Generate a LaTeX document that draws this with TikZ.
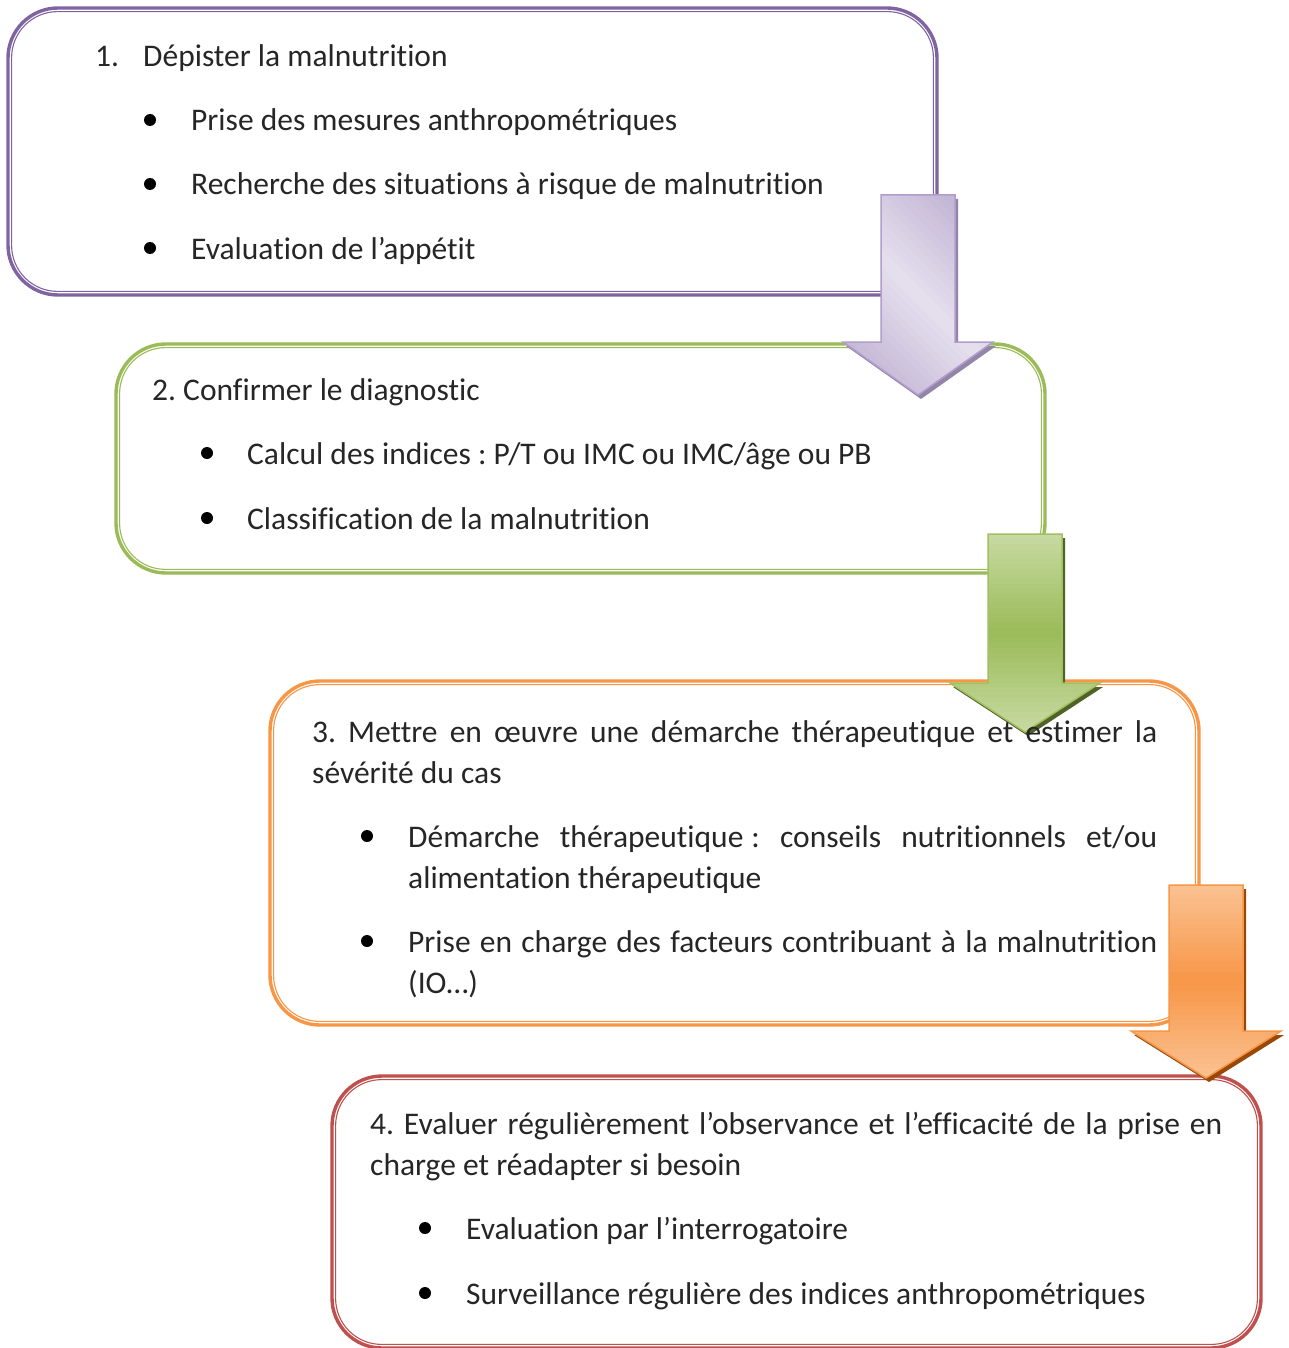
\documentclass[tikz,border=0pt]{standalone}
\usepackage{fontspec}
\setmainfont{Carlito}[Ligatures={NoCommon}]
\definecolor{cpurple}{HTML}{8064A2}
\definecolor{cgreen}{HTML}{9BBB59}
\definecolor{corange}{HTML}{F79646}
\definecolor{cred}{HTML}{C0504D}
\definecolor{txtc}{HTML}{262626}
\definecolor{plight}{HTML}{E6E0EE}
\definecolor{pdark}{HTML}{B4A3CB}
\definecolor{pline}{HTML}{B09DCB}
\definecolor{pshadow}{HTML}{9285A8}
\definecolor{glight}{HTML}{C6D9A0}
\definecolor{gline}{HTML}{A2C062}
\definecolor{gshadow}{HTML}{4F6228}
\definecolor{olight}{HTML}{FAC191}
\definecolor{oshadow}{HTML}{984807}
\newcommand\dblbox[5]{%
  \draw[line width=3.4pt,#1,rounded corners=50pt] (#2,-#3) rectangle (#4,-#5);
  \draw[line width=1.1pt,#1,rounded corners=46pt] (#2+3.6,-#3-3.6) rectangle (#4-3.6,-#5+3.6);}
\newcommand\arrowpath[4]{({#1-37},{-#2}) -- ({#1+37},{-#2}) -- ({#1+37},{-#3}) -- ({#1+75},{-#3}) -- ({#1},{-#4}) -- ({#1-75},{-#3}) -- ({#1-37},{-#3}) -- cycle}
% vertical gradient arrow: cx, top, base, tip, light, dark, line, shadow
\newcommand\varrow[8]{%
  \fill[#8] [xshift=3pt,yshift=-4pt] \arrowpath{#1}{#2}{#3}{#4};
  \begin{scope}
    \clip \arrowpath{#1}{#2}{#3}{#4};
    \foreach \i in {0,...,39}{%
      \pgfmathsetmacro\p{abs(\i-19.5)/19.5*100}%
      \pgfmathsetmacro\ya{-#2-\i*(#4-#2)/40}%
      \pgfmathsetmacro\yb{-#2-(\i+1)*(#4-#2)/40-0.6}%
      \fill[#5!\p!#6] ({#1-80},\ya) rectangle ({#1+80},\yb);}
  \end{scope}
  \draw[#7,line width=1.5pt,line join=miter] \arrowpath{#1}{#2}{#3}{#4};}
\newcommand\jline[2]{\makebox[#1][s]{#2}}
\begin{document}
\begin{tikzpicture}[x=1pt,y=1pt,
  txt/.style={anchor=base west,inner sep=0pt,text=txtc,font=\fontsize{31.5}{41}\selectfont\frenchspacing},
  bul/.style={fill=black,circle,inner sep=0pt,minimum size=12pt}]
\useasboundingbox (0,0) rectangle (1288,-1348);
\fill[white] (0,0) rectangle (1288,-1348);
% boxes
\dblbox{cpurple}{8}{8}{937}{295}
\dblbox{cgreen}{116}{344}{1045}{573}
\dblbox{corange}{270}{681}{1199}{1025}
\dblbox{cred}{332}{1076}{1261}{1348}
% arrow 1 (diagonal gradient)
\fill[pshadow] [xshift=3pt,yshift=-4pt] \arrowpath{918}{195}{342}{395};
\begin{scope}
  \clip \arrowpath{918}{195}{342}{395};
  \begin{scope}[shift={(918,-295)},rotate=45]
    \foreach \i in {0,...,39}{%
      \pgfmathsetmacro\p{abs(\i-19.5)/19.5*100}%
      \pgfmathsetmacro\xa{-135+\i*270/40}%
      \pgfmathsetmacro\xb{-135+(\i+1)*270/40+0.8}%
      \fill[pdark!\p!plight] (\xa,-160) rectangle (\xb,160);}
  \end{scope}
\end{scope}
\draw[pline,line width=1.5pt] \arrowpath{918}{195}{342}{395};
% arrow 2
\varrow{1025}{534}{683}{732}{glight}{cgreen}{gline}{gshadow}
% arrow 3
\varrow{1206}{885}{1031}{1078}{olight}{corange}{corange}{oshadow}
% box 1 text
\node[txt] (n1) at (95,-67) {1.};
\node[txt] (h1) at (143,-67) {Dépister la malnutrition};
\node[bul] (b11) at (150,-120) {};
\node[txt] (t11) at (191,-131) {Prise des mesures anthropométriques};
\node[bul] (b12) at (150,-184) {};
\node[txt] (t12) at (191,-195) {Recherche des situations à risque de malnutrition};
\node[bul] (b13) at (150,-248) {};
\node[txt] (t13) at (191,-259) {Evaluation de l’appétit};
% box 2 text
\node[txt] (h2) at (152,-400) {2. Confirmer le diagnostic};
\node[bul] (b21) at (207,-453) {};
\node[txt] (t21) at (247,-464) {Calcul des indices : P/T ou IMC ou IMC/âge ou PB};
\node[bul] (b22) at (207,-518) {};
\node[txt] (t22) at (247,-529) {Classification de la malnutrition};
% box 3 text
\node[txt] (h3a) at (312,-742) {\jline{845pt}{3. Mettre en œuvre une démarche thérapeutique et estimer la}};
\node[txt] (h3b) at (312,-783) {sévérité du cas};
\node[bul] (b31) at (367,-836) {};
\node[txt] (t31a) at (408,-847) {\jline{749pt}{Démarche thérapeutique\kern0.25em: conseils nutritionnels et/ou}};
\node[txt] (t31b) at (408,-888) {alimentation thérapeutique};
\node[bul] (b32) at (367,-941) {};
\node[txt] (t32a) at (408,-952) {\jline{749pt}{Prise en charge des facteurs contribuant à la malnutrition}};
\node[txt] (t32b) at (408,-993) {(IO…)};
% box 4 text
\node[txt] (h4a) at (370,-1134) {\jline{852pt}{4. Evaluer régulièrement l’observance et l’efficacité de la prise en}};
\node[txt] (h4b) at (370,-1175) {charge et réadapter si besoin};
\node[bul] (b41) at (425,-1228) {};
\node[txt] (t41) at (466,-1239) {Evaluation par l’interrogatoire};
\node[bul] (b42) at (425,-1293) {};
\node[txt] (t42) at (466,-1304) {Surveillance régulière des indices anthropométriques};
\end{tikzpicture}
\end{document}
